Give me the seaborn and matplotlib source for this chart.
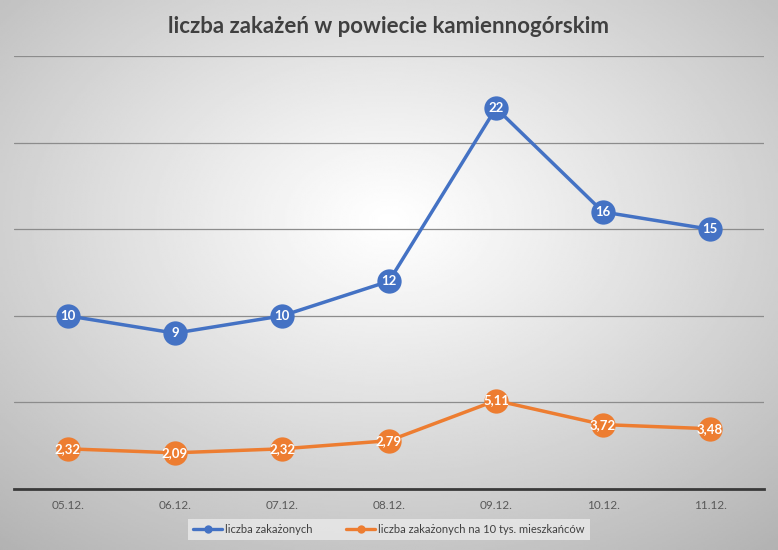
import numpy as np
import pandas as pd
import matplotlib
matplotlib.use("Agg")
import matplotlib.pyplot as plt
import seaborn as sns

dates = ["05.12.", "06.12.", "07.12.", "08.12.", "09.12.", "10.12.", "11.12."]
infected = [10, 9, 10, 12, 22, 16, 15]
per10k = [2.32, 2.09, 2.32, 2.79, 5.11, 3.72, 3.48]
series_names = ["liczba zakażonych", "liczba zakażonych na 10 tys. mieszkańców"]
title = "liczba zakażeń w powiecie kamiennogórskim"

sns.set_theme(style="white")
plt.rcParams['font.family'] = ['Lato', 'DejaVu Sans']

df = pd.DataFrame({
    "date": dates * 2,
    "x": list(range(len(dates))) * 2,
    "value": infected + per10k,
    "series": [series_names[0]] * len(dates) + [series_names[1]] * len(dates),
})

colors = {series_names[0]: "#4472C4", series_names[1]: "#ED7D31"}

fig = plt.figure(figsize=(7.78, 5.5), dpi=100)

# radial gradient background
bg = fig.add_axes([0, 0, 1, 1], zorder=-10)
yy, xx = np.mgrid[-1:1:300j, -1:1:400j]
yy = yy + 0.2
r = np.sqrt(xx**2 + yy**2) / np.sqrt(2)
val = 1.0 - 0.27 * np.clip(r, 0, 1.2)**1.1
bg.imshow(val, cmap="gray", vmin=0, vmax=1, aspect="auto", extent=[0, 1, 0, 1])
bg.axis("off")

ax = fig.add_axes([0.0186, 0.1109, 0.9628, 0.7871])
ax.patch.set_alpha(0)
sns.lineplot(data=df, x="x", y="value", hue="series", palette=colors, ax=ax,
             marker="o", markersize=17.5, linewidth=2.5, markeredgewidth=0,
             legend=True)

ax.set_xlim(-0.5, len(dates) - 0.5)
ax.set_ylim(0, 25)
ax.set_yticks([0, 5, 10, 15, 20, 25])
ax.yaxis.grid(True, color="#8c8c8c", linewidth=0.9)
ax.set_axisbelow(True)
ax.tick_params(axis="y", left=False, labelleft=False)
ax.set_xticks(range(len(dates)))
ax.set_xticklabels(dates, color="#595959", fontsize=8.5)
ax.tick_params(axis="x", length=0, pad=8)
ax.set_xlabel("")
ax.set_ylabel("")
for s in ["top", "right", "left"]:
    ax.spines[s].set_visible(False)
ax.spines["bottom"].set_color("#3a3a3a")
ax.spines["bottom"].set_linewidth(2)

for i, v in enumerate(infected):
    ax.text(i, v, str(v), color="white", ha="center", va="center",
            fontsize=9.5, fontweight="bold", zorder=5)
for i, v in enumerate(per10k):
    ax.text(i, v, f"{v:.2f}".replace(".", ","), color="white", ha="center",
            va="center", fontsize=9.5, fontweight="bold", zorder=5)

leg = ax.legend(loc="upper center", bbox_to_anchor=(0.5, -0.056), ncol=2,
                frameon=True, fontsize=8, handlelength=2.6, columnspacing=3.0,
                borderpad=0.45, handletextpad=0.3)
leg.get_frame().set_facecolor("#e6e6e6")
leg.get_frame().set_edgecolor("none")
leg.get_frame().set_alpha(0.9)
leg.get_frame().set_boxstyle("square", pad=0.0)
for t in leg.get_texts():
    t.set_color("#404040")
for h in leg.get_lines():
    h.set_markersize(6)
    h.set_linewidth(2.4)

fig.text(0.5, 0.952, title, ha="center", va="center", fontsize=16,
         fontweight="bold", color="#404040")

fig.savefig("out.png", dpi=100)
